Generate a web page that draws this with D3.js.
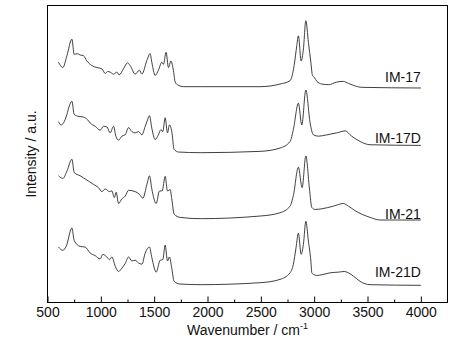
<!DOCTYPE html>
<html>
<head>
<meta charset="utf-8">
<script src="https://cdn.jsdelivr.net/npm/d3@7"></script>
<style>
  body { margin: 0; background: #fff; }
  text { font-family: Arial, "Liberation Sans", sans-serif; fill: #111; }
</style>
</head>
<body>
<svg id="chart" width="464" height="354"></svg>
<script>
// spectra, [wavenumber, intensity a.u.] relative to each trace's own baseline
const im17 = [[603,0.37],[644,0.29],[682,0.47],[729,0.72],[750,0.49],[780,0.50],[806,0.48],[837,0.47],[869,0.39],[916,0.32],
  [963,0.29],[1010,0.27],[1041,0.20],[1065,0.23],[1088,0.22],[1119,0.19],[1150,0.22],[1172,0.18],[1212,0.27],[1250,0.36],
  [1275,0.32],[1322,0.19],[1362,0.25],[1385,0.19],[1432,0.40],[1462,0.50],[1478,0.37],[1509,0.17],[1540,0.25],[1572,0.37],
  [1587,0.34],[1612,0.52],[1634,0.29],[1657,0.39],[1681,0.24],[1697,0.07],[1728,0.02],[1775,0.0],[1931,0.0],[2493,0.0],
  [2680,0.04],[2774,0.09],[2812,0.32],[2837,0.62],[2852,0.77],[2878,0.39],[2899,0.57],[2922,1.00],[2946,0.67],[2969,0.37],
  [2984,0.17],[3002,0.14],[3025,0.08],[3072,0.04],[3134,0.03],[3212,0.07],[3274,0.08],[3321,0.05],[3368,0.02],[3446,-0.01],
  [4000,-0.02]];
const im17d = [[603,0.47],[626,0.42],[650,0.45],[682,0.58],[703,0.70],[729,0.78],[750,0.58],[791,0.55],[837,0.54],[875,0.50],
  [900,0.45],[947,0.40],[994,0.34],[1025,0.40],[1057,0.39],[1088,0.30],[1119,0.40],[1141,0.25],[1166,0.19],[1197,0.25],
  [1228,0.27],[1260,0.38],[1291,0.32],[1322,0.30],[1353,0.32],[1385,0.27],[1416,0.40],[1432,0.47],[1456,0.56],[1478,0.37],
  [1509,0.20],[1540,0.27],[1563,0.35],[1581,0.32],[1603,0.53],[1625,0.30],[1643,0.42],[1665,0.32],[1687,0.05],[1728,0.01],
  [1931,0.0],[2493,0.02],[2680,0.07],[2774,0.17],[2805,0.35],[2852,0.75],[2884,0.42],[2922,0.95],[2962,0.45],[2993,0.27],
  [3040,0.25],[3118,0.27],[3212,0.30],[3290,0.33],[3352,0.25],[3430,0.17],[3524,0.12],[4000,0.11]];
const im21 = [[603,0.65],[644,0.61],[682,0.72],[729,0.90],[750,0.70],[806,0.65],[837,0.62],[884,0.57],[931,0.52],[978,0.47],
  [1010,0.41],[1041,0.45],[1082,0.41],[1104,0.42],[1126,0.32],[1144,0.40],[1166,0.23],[1197,0.30],[1228,0.34],[1260,0.43],
  [1322,0.41],[1362,0.37],[1394,0.31],[1432,0.52],[1456,0.65],[1478,0.45],[1519,0.23],[1550,0.42],[1575,0.42],[1603,0.64],
  [1625,0.42],[1650,0.44],[1665,0.30],[1687,0.07],[1743,0.02],[1931,0.0],[2493,0.04],[2680,0.09],[2774,0.19],[2805,0.35],
  [2852,0.78],[2887,0.47],[2922,0.95],[2956,0.45],[2978,0.17],[3009,0.14],[3072,0.15],[3181,0.19],[3274,0.23],[3321,0.19],
  [3384,0.12],[3524,0.02],[3618,-0.02],[4000,-0.02]];
const im21d = [[603,0.57],[644,0.52],[675,0.58],[729,0.86],[750,0.67],[806,0.58],[853,0.57],[900,0.48],[947,0.44],[994,0.39],
  [1019,0.46],[1050,0.43],[1082,0.38],[1104,0.42],[1135,0.28],[1166,0.20],[1197,0.25],[1228,0.32],[1260,0.42],[1291,0.36],
  [1322,0.37],[1353,0.33],[1385,0.31],[1416,0.48],[1456,0.57],[1478,0.41],[1519,0.19],[1556,0.37],[1581,0.38],[1603,0.60],
  [1625,0.36],[1643,0.42],[1665,0.25],[1687,0.05],[1743,0.01],[1931,0.0],[2493,0.03],[2680,0.08],[2774,0.18],[2805,0.31],
  [2830,0.56],[2852,0.78],[2878,0.46],[2899,0.61],[2922,0.96],[2946,0.66],[2969,0.36],[2978,0.18],[3000,0.15],[3025,0.14],
  [3072,0.15],[3150,0.18],[3228,0.19],[3281,0.20],[3321,0.18],[3368,0.13],[3430,0.05],[3524,0.0],[4000,-0.01]];

const sampleNames = ["IM-17", "IM-17D", "IM-21", "IM-21D"];
const offsets = [3, 2, 1, 0];
const xTicks = [500, 1000, 1500, 2000, 2500, 3000, 3500, 4000];
const xMinorTicks = [750, 1250, 1750, 2250, 2750, 3250, 3750];

const spectra = [im17, im17d, im21, im21d];

const svg = d3.select("#chart");
const plotL = 47.5, plotR = 447.5, plotT = 5.5, plotB = 302.5;

const x = d3.scaleLinear().domain([500, 4250]).range([plotL, plotR]);
const y = d3.scaleLinear().domain([-0.27, 4.23]).range([plotB, plotT]);

// axis ticks point inward
const xAxis = d3.axisBottom(x).tickValues(xTicks).tickSize(-6).tickPadding(5).tickFormat(d3.format("d"));
const xMinor = d3.axisBottom(x).tickValues(xMinorTicks).tickSize(-3).tickFormat("");

const gx = svg.append("g").attr("transform", "translate(0," + plotB + ")").call(xAxis);
const gm = svg.append("g").attr("transform", "translate(0," + plotB + ")").call(xMinor);
[gx, gm].forEach(function(g) {
  g.select(".domain").remove();
  g.selectAll("line").attr("stroke", "#000");
});
gx.selectAll("text").attr("font-size", "14px").attr("fill", "#111");

const line = d3.line()
  .curve(d3.curveMonotoneX)
  .x(function(d) { return x(d[0]); })
  .y(function(d) { return y(d[1]); });

svg.append("g").selectAll("path")
  .data(spectra)
  .enter().append("path")
  .attr("fill", "none")
  .attr("stroke", "#2a2a2a")
  .attr("stroke-width", 0.9)
  .attr("stroke-linejoin", "round")
  .attr("d", function(d, i) {
    return line(d.map(function(p) { return [p[0], p[1] + offsets[i]]; }));
  });

// sample labels sit just above the end of each trace
const labelLift = [0.09, 0.03, 0.02, 0.13];
svg.append("g").selectAll("text")
  .data(sampleNames)
  .enter().append("text")
  .attr("x", x(4000))
  .attr("y", function(d, i) {
    const last = spectra[i][spectra[i].length - 1];
    return y(last[1] + offsets[i] + labelLift[i]);
  })
  .attr("text-anchor", "end")
  .attr("font-size", "14px")
  .text(function(d) { return d; });

// frame
svg.append("rect")
  .attr("x", plotL).attr("y", plotT)
  .attr("width", plotR - plotL).attr("height", plotB - plotT)
  .attr("fill", "none").attr("stroke", "#000").attr("stroke-width", 1);

// axis titles
const xt = svg.append("text")
  .attr("x", (plotL + plotR) / 2)
  .attr("y", 335)
  .attr("text-anchor", "middle")
  .attr("font-size", "14px");
xt.append("tspan").text("Wavenumber / cm");
xt.append("tspan").attr("dy", -6).attr("font-size", "9px").text("-1");

svg.append("text")
  .attr("transform", "translate(36," + (plotT + plotB) / 2 + ") rotate(-90)")
  .attr("text-anchor", "middle")
  .attr("font-size", "14px")
  .text("Intensity / a.u.");
</script>
</body>
</html>
